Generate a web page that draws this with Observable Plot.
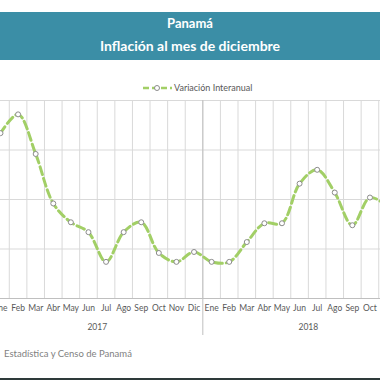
<!DOCTYPE html>
<html>
<head>
<meta charset="utf-8">
<script src="https://cdn.jsdelivr.net/npm/d3@7"></script>
<script src="https://cdn.jsdelivr.net/npm/@observablehq/plot@0.6"></script>
<style>
  html, body { margin: 0; padding: 0; background: #fff; }
  #wrap { position: relative; width: 380px; height: 380px; overflow: hidden; font-family: Lato, "Open Sans", sans-serif; }
  #header { position: absolute; left: 0; top: 12px; width: 380px; height: 48px; background: #3b8ea6; color: #fff; font-weight: bold; text-align: center; }
  #header .t1 { position: absolute; top: 3px; width: 100%; font-size: 13px; }
  #header .t2 { position: absolute; top: 25px; width: 100%; font-size: 14px; }
  #legend { position: absolute; top: 82px; left: 143px; font-size: 9px; color: #595959; display: flex; align-items: center; }
  #chart { position: absolute; left: 0; top: 90px; }
  #footer { position: absolute; left: 4px; top: 348px; font-size: 9.5px; color: #7f7f7f; }
  #bottombar { position: absolute; left: 0; top: 378px; width: 380px; height: 2px; background: #2e3a3a; }
</style>
</head>
<body>
<div id="wrap">
  <div id="header"><div class="t1">Panamá</div><div class="t2">Inflación al mes de diciembre</div></div>
  <div id="legend">
    <svg width="29" height="10"><line x1="0" y1="5" x2="29" y2="5" stroke="#a2cf66" stroke-width="2.5" stroke-dasharray="6,3"/><circle cx="14" cy="5" r="2.5" fill="#fff" stroke="#8c8c8c"/></svg>
    <span style="margin-left:2px">Variación Interanual</span>
  </div>
  <div id="chart"></div>
  <div id="footer">Estadística y Censo de Panamá</div>
  <div id="bottombar"></div>
</div>
<script>
const months = ["Ene","Feb","Mar","Abr","May","Jun","Jul","Ago","Sep","Oct","Nov","Dic"];
const years = ["2017", "2018"];
const values2017 = [1.67, 1.86, 1.46, 0.96, 0.77, 0.67, 0.37, 0.67, 0.77, 0.46, 0.37, 0.47];
const values2018 = [0.37, 0.37, 0.57, 0.76, 0.76, 1.16, 1.30, 1.07, 0.74, 1.02, 0.93];
const yTicks = [0.5, 1, 1.5, 2];

const data = [];
[values2017, values2018].forEach((vals, yi) => {
  vals.forEach((v, m) => data.push({i: yi * 12 + m, month: months[m], year: years[yi], value: v}));
});
const allIdx = d3.range(0, 24);
const labelIdx = d3.range(0, 22);
const yearData = years.map((y, k) => ({year: y, center: k * 12 + 5.5}));

const chart = Plot.plot({
  width: 380,
  height: 260,
  marginLeft: 0,
  marginRight: 0,
  marginTop: 10,
  marginBottom: 52,
  x: {type: "linear", domain: [0, 21.6], axis: null},
  y: {domain: [0, 2], axis: null},
  style: {fontFamily: "Lato, 'Open Sans', sans-serif", background: "transparent"},
  marks: [
    Plot.ruleX(allIdx, {x: d => d + 0.5, stroke: "#d9d9d9", strokeWidth: 1}),
    Plot.ruleY(yTicks, {stroke: "#d9d9d9", strokeWidth: 1}),
    Plot.ruleY([0], {stroke: "#bfbfbf", strokeWidth: 1}),
    Plot.ruleX([11.5, 23.5], {stroke: "#bfbfbf", strokeWidth: 1, insetBottom: -37}),
    Plot.line(data, {x: "i", y: "value", curve: "catmull-rom", stroke: "#a2cf66", strokeWidth: 3, strokeDasharray: "8,4", clip: true}),
    Plot.dot(data, {x: "i", y: "value", r: 2.5, fill: "#fff", stroke: "#8c8c8c", strokeWidth: 1}),
    Plot.text(labelIdx, {x: d => d, text: d => months[d % 12], frameAnchor: "bottom", dy: 12, fontSize: 8.5, fill: "#595959"}),
    Plot.text(yearData, {x: "center", text: "year", frameAnchor: "bottom", dy: 31, fontSize: 8.5, fill: "#595959"})
  ]
});
document.getElementById("chart").appendChild(chart);
</script>
</body>
</html>
